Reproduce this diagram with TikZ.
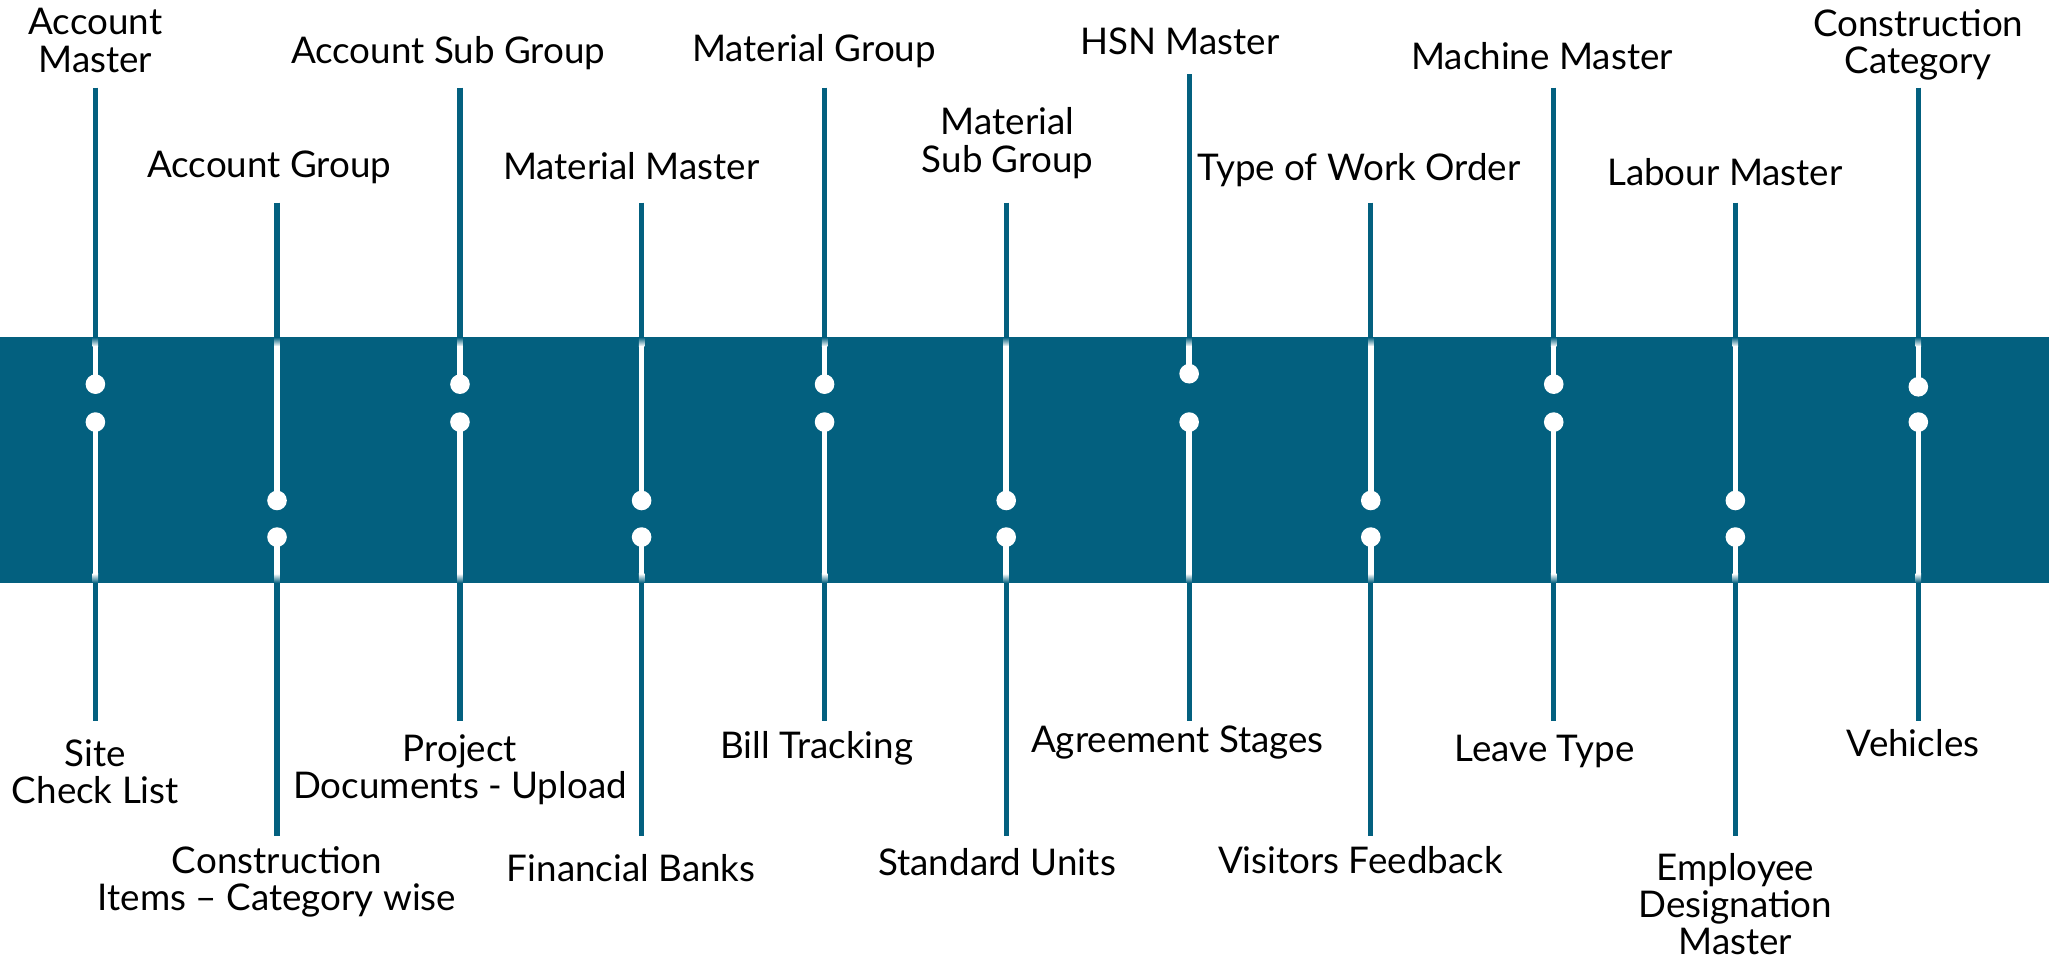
\documentclass[tikz,border=0pt]{standalone}
\usepackage{fontspec}
\setmainfont{Lato}
\definecolor{band}{RGB}{3,96,127}
\tikzstyle{stem}=[line width=0.04cm, draw=band]
\tikzstyle{inner}=[line width=0.042cm, draw=white]
\tikzstyle{dot}=[circle, fill=white, inner sep=0pt, minimum size=0.15cm]
\tikzstyle{lbl}=[align=center, font=\fontsize{8}{8.1}\selectfont, inner sep=0pt]

\begin{document}
\begin{tikzpicture}[x=0.01cm,y=-0.01cm]
    \useasboundingbox (0,0) rectangle (1568,731.6);
    \fill [band] (0,258) rectangle (1568,446);

    % columns: x / top end / upper dot / lower dot / bottom end
    \foreach \n/\x/\t/\da/\db/\b in {1/73/67/294/323/552, 2/212/155/383/411/640,
        3/352/67/294/323/552, 4/491/155/383/411/640, 5/631/67/294/323/552,
        6/770/155/383/411/640, 7/910/57/286/323/552, 8/1049/155/383/411/640,
        9/1189/67/294/323/552, 10/1328/155/383/411/640, 11/1468/67/296/323/552} {
        \coordinate (top\n) at (\x,\t);
        \coordinate (bot\n) at (\x,\b);
        \node [dot] (up\n) at (\x,\da) {};
        \node [dot] (lo\n) at (\x,\db) {};
        \draw [stem] (top\n) -- (\x,258);
        \shade [top color=band, bottom color=white] (\x-2.1,258) rectangle (\x+2.1,265);
        \draw [inner] (\x,264.5) -- (up\n.center);
        \draw [inner] (lo\n.center) -- (\x,439.5);
        \shade [top color=white, bottom color=band] (\x-2.1,439) rectangle (\x+2.1,446);
        \draw [stem] (\x,446) -- (bot\n);
    }

    % labels above the band
    \node [lbl] (amaster) at (73,31) {Account\\Master};
    \node [lbl] (agroup) at (206,128) {Account Group};
    \node [lbl] (asub) at (343,41) {Account Sub Group};
    \node [lbl] (mmaster) at (483,127) {Material Master};
    \node [lbl] (mgroup) at (623,39) {Material Group};
    \node [lbl] (msub) at (771,109.5) {Material\\Sub Group};
    \node [lbl] (hsn) at (903,32) {HSN Master};
    \node [lbl] (work) at (1040,130) {Type of Work Order};
    \node [lbl] (machine) at (1180,43) {Machine Master};
    \node [lbl] (labour) at (1320,132) {Labour Master};
    \node [lbl] (ccat) at (1468,34.5) {Construction\\Category};

    % labels below the band
    \node [lbl] (site) at (73,590.5) {Site\\Check List};
    \node [lbl] (items) at (212,675) {Construction\\Items -- Category wise};
    \node [lbl] (docs) at (352,589) {Project\\Documents - Upload};
    \node [lbl] (banks) at (483,664) {Financial Banks};
    \node [lbl] (bill) at (625,573) {Bill Tracking};
    \node [lbl] (units) at (763,660) {Standard Units};
    \node [lbl] (stages) at (901,568) {Agreement Stages};
    \node [lbl] (visit) at (1041,658) {Visitors Feedback};
    \node [lbl] (leave) at (1182,575) {Leave Type};
    \node [lbl] (desig) at (1328,692) {Employee\\Designation\\Master};
    \node [lbl] (veh) at (1464,569) {Vehicles};
  \end{tikzpicture}
\end{document}
